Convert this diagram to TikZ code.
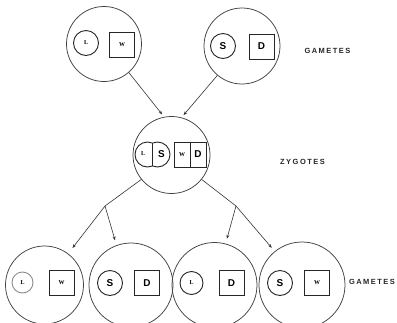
\documentclass[tikz,border=0pt]{standalone}
\usepackage{fontspec}
\setmainfont{Liberation Serif}
\newfontfamily\sansb{Liberation Sans}
\newfontfamily\capsf[LetterSpace=20]{Liberation Sans}
\usetikzlibrary{arrows.meta}
\begin{document}
\begin{tikzpicture}[x=1bp,y=-1bp,
  cell/.style={circle,draw=black!75,line width=0.75bp,inner sep=0pt},
  chromc/.style={circle,draw=black!85,line width=0.9bp,inner sep=0pt,minimum size=25bp},
  chroms/.style={rectangle,draw=black!85,line width=0.9bp,inner sep=0pt,minimum width=25bp,minimum height=25bp},
  chromline/.style={draw=black!85,line width=0.9bp},
  small/.style={font=\bfseries\fontsize{6}{6}\selectfont},
  big/.style={font=\sansb\bfseries\fontsize{10}{10}\selectfont},
  lab/.style={font=\capsf\bfseries\fontsize{7.5}{8}\selectfont,text=black!85},
  conn/.style={draw=black!80,line width=0.6bp},
  arr/.style={conn,-{Stealth[length=4bp,width=3bp]}}]
\useasboundingbox (0,0) rectangle (397,323);
% cells
\node[cell,minimum size=75bp] (g1) at (104,44) {};
\node[cell,minimum size=76bp] (g2) at (242,46) {};
\node[cell,minimum size=77bp] (z) at (171.5,155) {};
\node[cell,minimum size=78bp] (b1) at (44.5,285) {};
\node[cell,minimum size=84bp] (b2) at (131,285) {};
\node[cell,minimum size=85bp] (b3) at (214.5,285) {};
\node[cell,minimum size=86bp] (b4) at (302,285) {};
% top gametes
\node[chromc,small] (g1c) at (86,43) {L};
\node[chroms,small] (g1s) at (122,44.5) {W};
\node[chromc,big] (g2c) at (223,46) {S};
\node[chroms,big] (g2s) at (261.5,46.5) {D};
% zygote
\coordinate (zc1) at (147.5,154.5);
\coordinate (zc2) at (157.5,154.5);
\begin{scope}
  \clip (130,130) rectangle (152.5,180);
  \draw[chromline] (zc1) circle[radius=12.5];
\end{scope}
\begin{scope}
  \clip (152.5,130) rectangle (175,180);
  \draw[chromline] (zc2) circle[radius=12.5];
\end{scope}
\draw[chromline] (152.5,143.04) -- (152.5,165.96);
\node[small] (zl) at (143,154) {L};
\node[big] (zs) at (161.5,154.5) {S};
\node[chroms,minimum width=16bp,small] (zw) at (182,154.5) {W};
\node[chroms,minimum width=16bp,big] (zd) at (198,154.5) {D};
% bottom gametes
\node[chromc,minimum size=21bp,draw=black!45,small] (b1c) at (22.5,282.5) {L};
\node[chroms,small] (b1s) at (61.5,283) {W};
\node[chromc,big] (b2c) at (110,283) {S};
\node[chroms,big] (b2s) at (147,283) {D};
\node[chromc,minimum size=23bp,small] (b3c) at (191.5,283) {L};
\node[chroms,big] (b3s) at (231.5,283) {D};
\node[chromc,big] (b4c) at (280,283) {S};
\node[chroms,small] (b4s) at (317,283) {W};
% labels
\node[lab] (t1) at (327.5,51) {GAMETES};
\node[lab] (t2) at (302.5,162) {ZYGOTES};
\node[lab] (t3) at (372,282) {GAMETES};
% connectors
\draw[arr,shorten >=3bp] (g1.-49) -- (z.101);
\draw[arr,shorten >=3bp] (g2.-130) -- (z.75);
\coordinate (s1) at (105,206);
\coordinate (s2) at (236,206);
\draw[conn] (z.-141) -- (s1);
\draw[arr,shorten >=7bp] (s1) -- (b1.53);
\draw[arr,shorten >=5bp] (s1) -- (b2.110);
\draw[conn] (z.-39) -- (s2);
\draw[arr,shorten >=5bp] (s2) -- (b3.75);
\draw[arr,shorten >=4.5bp] (s2) -- (b4.129);
\end{tikzpicture}
\end{document}
